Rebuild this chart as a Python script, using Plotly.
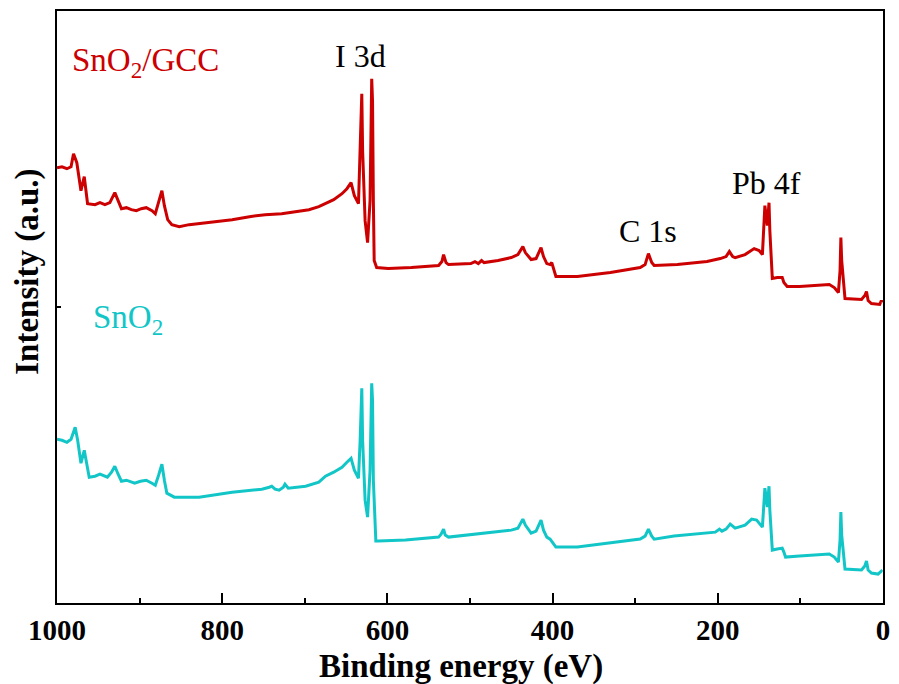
import plotly.graph_objects as go

# ---- data (binding energy in eV, intensity in arbitrary units) ----
gcc_energy = [1000, 994, 988, 983, 980, 976, 971, 967, 963, 954, 948, 942, 936, 930, 926, 922,
              916, 910, 904, 898, 892, 885, 881, 877, 873, 870, 866, 861, 852, 840, 828, 807,
              788, 767, 748, 728, 711, 695, 683, 675, 665, 655, 649, 644, 640, 635, 633, 631,
              630, 627, 624, 621, 619, 618, 617, 616, 613, 599, 571, 538, 534, 532, 529, 526,
              499, 494, 490, 486, 483, 466, 450, 442, 436, 433, 426, 420, 414, 411, 407, 403,
              401, 398, 396, 370, 330, 294, 288, 284, 280, 277, 249, 225, 213, 197, 190, 186,
              182, 179, 167, 156, 150, 146, 144, 143, 140, 138, 137, 134, 128, 122, 120, 116,
              101, 80, 65, 59, 54, 52, 51, 50, 47, 46, 26, 22, 20, 18, 14, 4, 2, 1]
gcc_intensity = [436, 437, 435, 437, 450, 441, 413, 427, 400, 399, 401, 399, 401, 411, 403, 395,
                 396, 394, 393, 395, 396, 393, 390, 403, 413, 398, 384, 379, 377, 379, 380, 382,
                 384, 387, 389, 390, 392, 394, 397, 400, 404, 410, 415, 421, 408, 400, 453, 510,
                 453, 383, 361, 403, 525, 503, 403, 343, 336, 335, 336, 338, 342, 349, 341, 339,
                 340, 342, 340, 343, 341, 343, 346, 349, 357, 351, 344, 345, 356, 347, 340, 339,
                 341, 333, 327, 327, 331, 336, 339, 350, 341, 338, 339, 341, 342, 345, 347, 352,
                 347, 346, 349, 355, 353, 349, 378, 398, 378, 401, 373, 325, 326, 326, 321, 317,
                 317, 318, 319, 316, 311, 333, 366, 343, 308, 305, 304, 308, 312, 303, 300, 299, 303, 301]

sno2_energy = [1000, 994, 988, 983, 978, 975, 971, 967, 961, 954, 948, 939, 934, 930, 926, 922,
               916, 906, 899, 892, 885, 881, 877, 873, 870, 867, 858, 828, 788, 752, 743, 740,
               736, 731, 726, 724, 720, 699, 683, 675, 665, 655, 649, 644, 640, 635, 633, 631,
               630, 627, 624, 621, 619, 618, 617, 614, 611, 578, 538, 535, 532, 530, 526, 490,
               450, 442, 436, 433, 426, 420, 414, 411, 407, 403, 401, 398, 396, 370, 330, 294,
               288, 284, 280, 277, 253, 225, 213, 203, 198, 195, 190, 185, 179, 167, 159, 153,
               146, 144, 143, 140, 138, 137, 134, 128, 122, 120, 118, 101, 80, 65, 59, 54,
               52, 51, 50, 47, 46, 26, 22, 20, 18, 14, 6, 2, 1]
sno2_intensity = [164, 163, 161, 164, 176, 163, 140, 153, 126, 127, 129, 126, 131, 137, 129, 122,
                  123, 120, 122, 123, 120, 118, 128, 139, 123, 110, 106, 106, 111, 114, 116, 117,
                  114, 113, 116, 119, 115, 117, 121, 127, 131, 136, 141, 145, 133, 125, 163, 215,
                  163, 103, 86, 133, 220, 203, 123, 62, 62, 63, 66, 69, 74, 68, 66, 69,
                  73, 75, 84, 78, 70, 72, 83, 73, 66, 64, 62, 58, 56, 56, 60, 64,
                  67, 74, 67, 64, 67, 69, 70, 71, 74, 72, 74, 79, 75, 78, 84, 83,
                  76, 103, 115, 96, 117, 93, 53, 54, 55, 51, 46, 47, 48, 49, 46, 41,
                  63, 91, 68, 38, 34, 33, 37, 42, 33, 30, 29, 32, 31]

x_ticks = [1000, 800, 600, 400, 200, 0]

RED = "#cc0000"
CYAN = "#12c6c8"
SERIF = "Liberation Serif"

fig = go.Figure()
fig.add_trace(go.Scatter(x=gcc_energy, y=gcc_intensity, mode="lines",
                         line=dict(color=RED, width=3), name="SnO2/GCC",
                         showlegend=False))
fig.add_trace(go.Scatter(x=sno2_energy, y=sno2_intensity, mode="lines",
                         line=dict(color=CYAN, width=3), name="SnO2",
                         showlegend=False))

fig.update_layout(
    width=899, height=684,
    margin=dict(l=57, r=9, t=10, b=81),
    paper_bgcolor="white", plot_bgcolor="white",
    font=dict(family=SERIF, color="black"),
)

fig.update_xaxes(
    range=[1000, 0], tickvals=x_ticks, ticktext=[str(v) for v in x_ticks],
    ticks="inside", ticklen=10, tickwidth=2, tickcolor="black",
    minor=dict(ticks="inside", ticklen=5, tickwidth=1.5, tickcolor="black", dtick=100),
    showline=True, linecolor="black", linewidth=2, mirror=True,
    showgrid=False, zeroline=False,
    tickfont=dict(family=SERIF, size=29, color="black", weight="bold"),
)
fig.update_yaxes(
    range=[0, 593], tickvals=[296.5], ticktext=[""],
    ticks="inside", ticklen=4, tickwidth=1.5, tickcolor="black",
    showline=True, linecolor="black", linewidth=2, mirror=True,
    showgrid=False, zeroline=False,
)

ann_font = dict(family=SERIF, size=32, color="black")
annotations = [
    dict(x=632, y=548, text="I 3d", xref="x", yref="y", showarrow=False, font=ann_font),
    dict(x=284, y=373, text="C 1s", xref="x", yref="y", showarrow=False, font=ann_font),
    dict(x=141, y=421, text="Pb 4f", xref="x", yref="y", showarrow=False, font=ann_font),
    dict(x=984, y=541, text="SnO<sub>2</sub>/GCC", xref="x", yref="y", xanchor="left",
         yanchor="middle", showarrow=False, font=dict(family=SERIF, size=33, color=RED)),
    dict(x=959, y=284, text="SnO<sub>2</sub>", xref="x", yref="y", xanchor="left",
         yanchor="middle", showarrow=False, font=dict(family=SERIF, size=33, color=CYAN)),
    dict(x=0.489, y=-0.107, xref="paper", yref="paper", text="Binding energy (eV)",
         xanchor="center", yanchor="middle", showarrow=False,
         font=dict(family=SERIF, size=33, color="black", weight="bold")),
    dict(x=-0.036, y=0.56, xref="paper", yref="paper", text="Intensity (a.u.)",
         xanchor="center", yanchor="middle", textangle=-90, showarrow=False,
         font=dict(family=SERIF, size=33, color="black", weight="bold")),
]
fig.update_layout(annotations=annotations)

fig.write_html("out.html")
